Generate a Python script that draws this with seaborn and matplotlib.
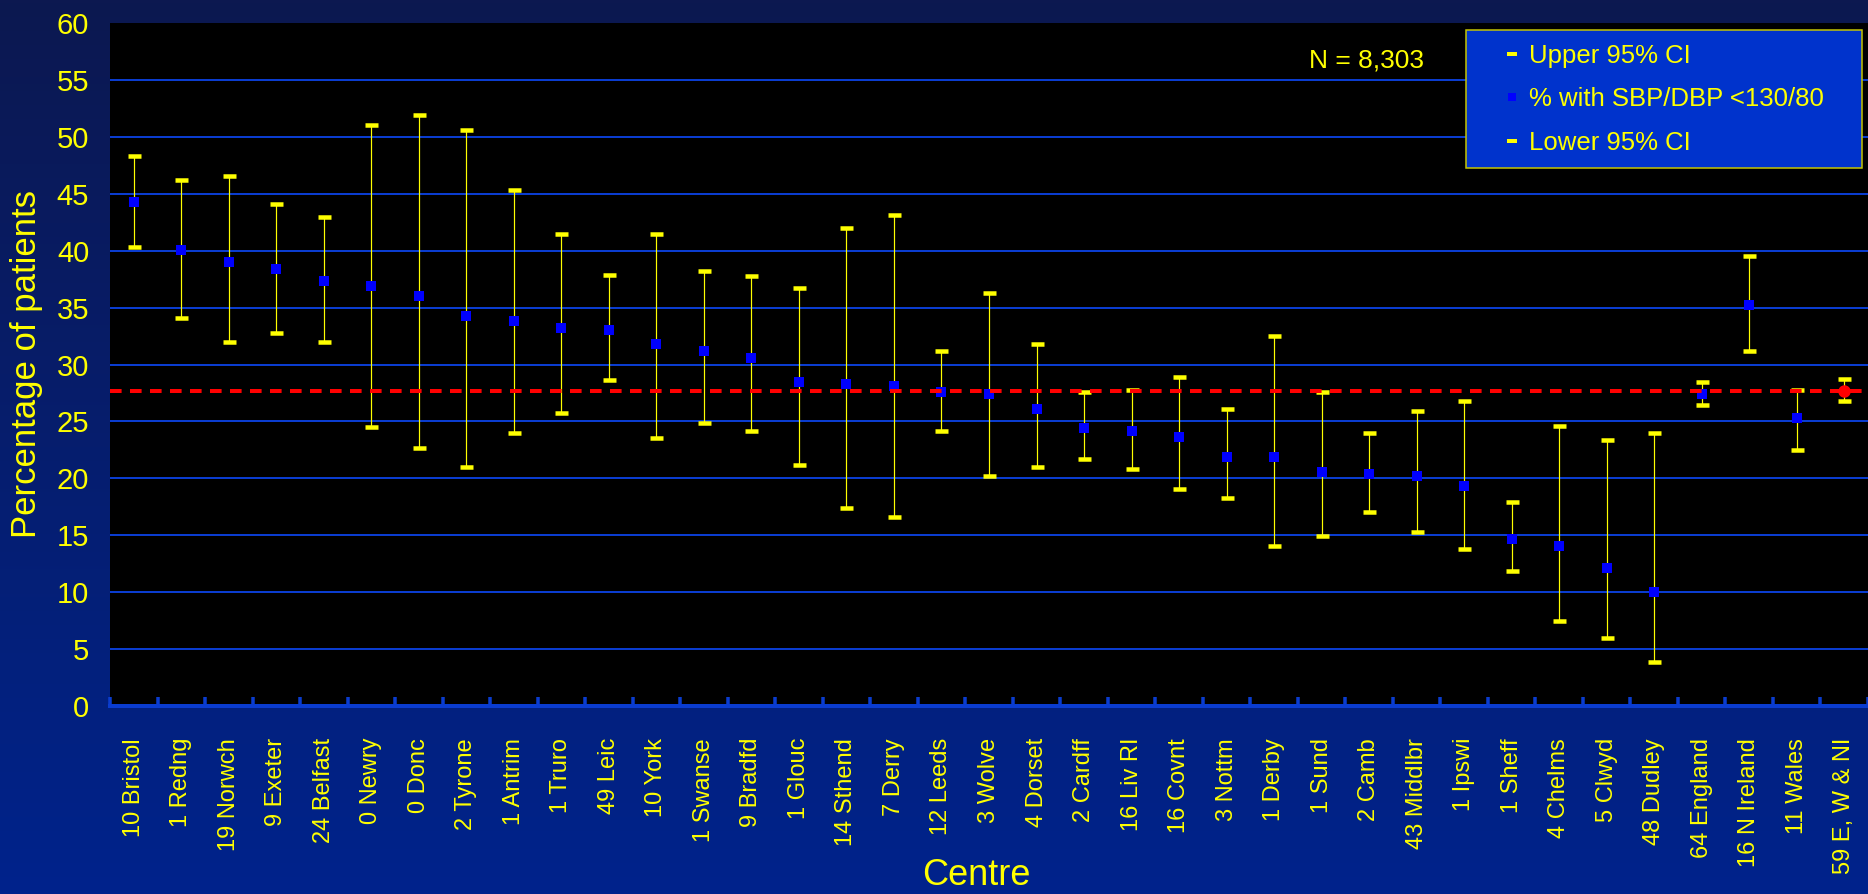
import numpy as np
import pandas as pd
import matplotlib
matplotlib.use("Agg")
import matplotlib.pyplot as plt
from matplotlib.lines import Line2D
import seaborn as sns

# ---- data -------------------------------------------------------------
centres = ["10 Bristol", "1 Redng", "19 Norwch", "9 Exeter", "24 Belfast",
           "0 Newry", "0 Donc", "2 Tyrone", "1 Antrim", "1 Truro", "49 Leic",
           "10 York", "1 Swanse", "9 Bradfd", "1 Glouc", "14 Sthend",
           "7 Derry", "12 Leeds", "3 Wolve", "4 Dorset", "2 Cardff",
           "16 Liv RI", "16 Covnt", "3 Nottm", "1 Derby", "1 Sund", "2 Camb",
           "43 Middlbr", "1 Ipswi", "1 Sheff", "4 Chelms", "5 Clwyd",
           "48 Dudley", "64 England", "16 N Ireland", "11 Wales",
           "59 E, W & NI"]

pct_controlled = [44.3, 40.05, 39.0, 38.35, 37.3, 36.9, 36.0, 34.3, 33.85,
                  33.2, 33.0, 31.8, 31.2, 30.6, 28.45, 28.3, 28.1, 27.6,
                  27.4, 26.1, 24.4, 24.2, 23.6, 21.9, 21.9, 20.6, 20.4, 20.2,
                  19.3, 14.7, 14.05, 12.1, 10.0, 27.4, 35.2, 25.3, 27.65]

upper_ci = [48.3, 46.2, 46.6, 44.1, 43.0, 51.0, 51.9, 50.6, 45.3, 41.5, 37.9,
            41.5, 38.2, 37.8, 36.7, 42.0, 43.1, 31.2, 36.3, 31.8, 27.6, 27.8,
            28.9, 26.1, 32.5, 27.6, 24.0, 25.9, 26.8, 17.9, 24.6, 23.4, 24.0,
            28.5, 39.5, 27.8, 28.7]

lower_ci = [40.3, 34.1, 32.0, 32.8, 32.0, 24.5, 22.7, 21.0, 24.0, 25.7, 28.6,
            23.5, 24.9, 24.2, 21.2, 17.4, 16.6, 24.2, 20.2, 21.0, 21.7, 20.8,
            19.1, 18.3, 14.05, 14.9, 17.0, 15.3, 13.8, 11.9, 7.5, 6.0, 3.9,
            26.4, 31.2, 22.5, 26.8]

legend_labels = ["Upper 95% CI", "% with SBP/DBP <130/80", "Lower 95% CI"]
n_text = "N = 8,303"

# ---- styling ----------------------------------------------------------
sns.set_theme(style="white")
plt.rcParams["font.family"] = ["Liberation Sans", "DejaVu Sans"]

PX = 0.72  # points per pixel at dpi 100
YELLOW = "#ffff00"
GRID_BLUE = "#0a3ccf"
MARK_BLUE = "#0000ff"
RED = "#ff0000"

df = pd.DataFrame({
    "centre": centres,
    "pos": np.arange(len(centres)),
    "pct": pct_controlled,
    "upper": upper_ci,
    "lower": lower_ci,
})
df["group"] = ["centre"] * (len(df) - 1) + ["overall"]
overall_pct = df.loc[df["group"] == "overall", "pct"].iloc[0]

fig = plt.figure(figsize=(18.68, 8.94), dpi=100)

# vertical navy-to-blue backdrop
bg = fig.add_axes([0, 0, 1, 1], zorder=-10)
top_c = np.array([12, 24, 80]) / 255.0
bot_c = np.array([0, 35, 140]) / 255.0
t = np.linspace(0, 1, 256)[:, None, None]
grad = top_c[None, None, :] * (1 - t) + bot_c[None, None, :] * t
bg.imshow(grad, aspect="auto", extent=[0, 1, 0, 1])
bg.axis("off")

ax = fig.add_axes([110 / 1868, 1 - 706 / 894, 1758 / 1868, 683 / 894], zorder=1)
ax.set_facecolor("black")

# confidence intervals
ax.errorbar(df["pos"], df["pct"],
            yerr=[df["pct"] - df["lower"], df["upper"] - df["pct"]],
            fmt="none", ecolor=YELLOW, elinewidth=1.2 * PX,
            capsize=6.5 * PX, capthick=4.5 * PX, zorder=3)

# centre estimates
sns.scatterplot(data=df[df["group"] == "centre"], x="pos", y="pct", ax=ax,
                marker="s", s=(9.5 * PX) ** 2, color=MARK_BLUE, linewidth=0,
                zorder=4, legend=False)

# overall reference line and overall estimate
ax.axhline(overall_pct, color=RED, lw=4 * PX, ls=(0, (2.9, 2.1)), zorder=5)
sns.scatterplot(data=df[df["group"] == "overall"], x="pos", y="pct", ax=ax,
                marker="o", s=(12.5 * PX) ** 2, color=RED, linewidth=0,
                zorder=6, legend=False)

# axes
n = len(df)
ax.set_xlim(-0.5, n - 0.5)
ax.set_ylim(0, 60)
ax.set_yticks(np.arange(0, 61, 5))
ax.set_xticks(df["pos"])
ax.set_xticklabels(df["centre"], rotation=90, color=YELLOW, fontsize=17,
                   va="top", ha="center")
ax.set_xticks(np.arange(-0.5, n, 1), minor=True)
ax.tick_params(axis="x", which="both", bottom=True)
ax.tick_params(axis="x", which="major", length=0, pad=23)
ax.tick_params(axis="x", which="minor", direction="in", length=9 * PX,
               width=3.5 * PX, color=GRID_BLUE)
ax.tick_params(axis="y", left=True, length=0, pad=15, labelsize=21,
               labelcolor=YELLOW)

ax.grid(axis="y", color=GRID_BLUE, lw=2 * PX)
ax.grid(axis="x", visible=False)
ygl = ax.get_ygridlines()
ygl[0].set_visible(False)
ygl[-1].set_visible(False)
ax.set_axisbelow(True)

for side in ("top", "right", "left"):
    ax.spines[side].set_visible(False)
ax.spines["bottom"].set_color(GRID_BLUE)
ax.spines["bottom"].set_linewidth(4 * PX)

ax.set_xlabel("Centre", color=YELLOW, fontsize=26)
ax.xaxis.set_label_coords(0.4926, -0.2225)
ax.set_ylabel("Percentage of patients", color=YELLOW, fontsize=25)
ax.yaxis.set_label_coords(-0.0381, 0.5)

ax.text(0.715, 0.9458, n_text, transform=ax.transAxes, ha="center",
        va="center", color=YELLOW, fontsize=19)

handles = [
    Line2D([], [], ls="none", marker="_", markersize=10 * PX,
           markeredgewidth=4 * PX, color=YELLOW),
    Line2D([], [], ls="none", marker="s", markersize=8 * PX,
           markeredgewidth=0, color=MARK_BLUE),
    Line2D([], [], ls="none", marker="_", markersize=10 * PX,
           markeredgewidth=4 * PX, color=YELLOW),
]
leg = ax.legend(handles, legend_labels, loc="upper left",
                bbox_to_anchor=(1466 / 1868, 1 - 167 / 894, 396 / 1868, 137 / 894),
                bbox_transform=fig.transFigure, mode="expand", borderaxespad=0,
                frameon=True, fancybox=False, facecolor="#0033cc",
                edgecolor="#c8c800", framealpha=1, fontsize=18.5,
                labelcolor=YELLOW, handlelength=2.52, handletextpad=-0.6,
                borderpad=0.53, labelspacing=0.76)
leg.get_frame().set_linewidth(1.5 * PX)
leg.set_zorder(10)

fig.savefig("out.png", dpi=100, facecolor=fig.get_facecolor())
